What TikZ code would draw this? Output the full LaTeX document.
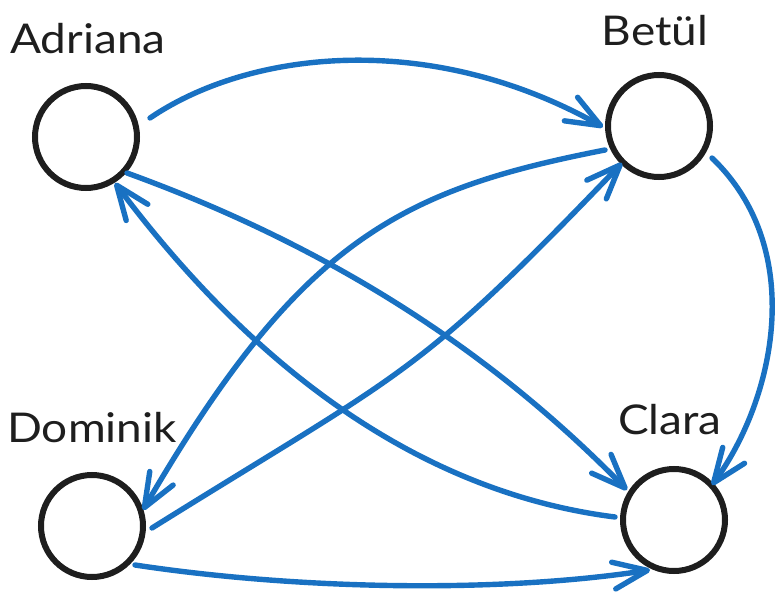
\documentclass[tikz,border=0pt]{standalone}
\usepackage{fontspec}
\setmainfont[FakeStretch=1.12]{Lato}
\usetikzlibrary{arrows.meta,calc}
\definecolor{exblue}{HTML}{1971C2}
\definecolor{exblack}{HTML}{1E1E1E}
\tikzset{
  personcirc/.style={draw=exblack, line width=6pt, circle, minimum size=102pt, inner sep=0pt},
  personlabel/.style={anchor=base, text=exblack, font=\fontsize{41}{46}\selectfont},
  linkarrow/.style={draw=exblue, line width=5.4pt, line cap=round, line join=round,
    -{Straight Barb[length=34pt,width=27pt,line cap=round,line join=round]}}
}
\begin{document}
\begin{tikzpicture}[x=1pt,y=-1pt]
\useasboundingbox (0,0) rectangle (779,596);
\node[personcirc] (A) at (86,137) {};
\node[personcirc] (B) at (659,126) {};
\node[personcirc] (C) at (674,520) {};
\node[personcirc] (D) at (92,526) {};
\node[personlabel] (lA) at (88,54) {Adriana};
\node[personlabel] (lB) at (655,46) {Betül};
\node[personlabel] (lC) at (670,434) {Clara};
\node[personlabel] (lD) at (92,442) {Dominik};
% Adriana -> Betul
\draw[linkarrow] ($(A)+(64,-19)$) .. controls (250,50) and (430,30) .. ($(B)+(-56,1)$);
% Betul -> Clara
\draw[linkarrow] ($(B)+(53,32)$) .. controls (808,250) and (774,400) .. ($(C)+(38,-35)$);
% Adriana -> Clara
\draw[linkarrow] ($(A)+(41,36)$) .. controls (342,251) and (500,360) .. ($(C)+(-47,-30)$);
% Clara -> Adriana
\draw[linkarrow] ($(C)+(-59,-3)$) .. controls (440,495) and (270,390) .. ($(A)+(29,46)$);
% Betul -> Dominik
\draw[linkarrow] ($(B)+(-54,24)$) .. controls (400,190) and (300,240) .. ($(D)+(51,-16)$);
% Dominik -> Betul
\draw[linkarrow] ($(D)+(60,2)$) .. controls (407,369) and (415,379) .. ($(B)+(-37,37)$);
% Dominik -> Clara
\draw[linkarrow] ($(D)+(43,39)$) .. controls (300,590) and (500,593) .. ($(C)+(-24,50)$);
\end{tikzpicture}
\end{document}
